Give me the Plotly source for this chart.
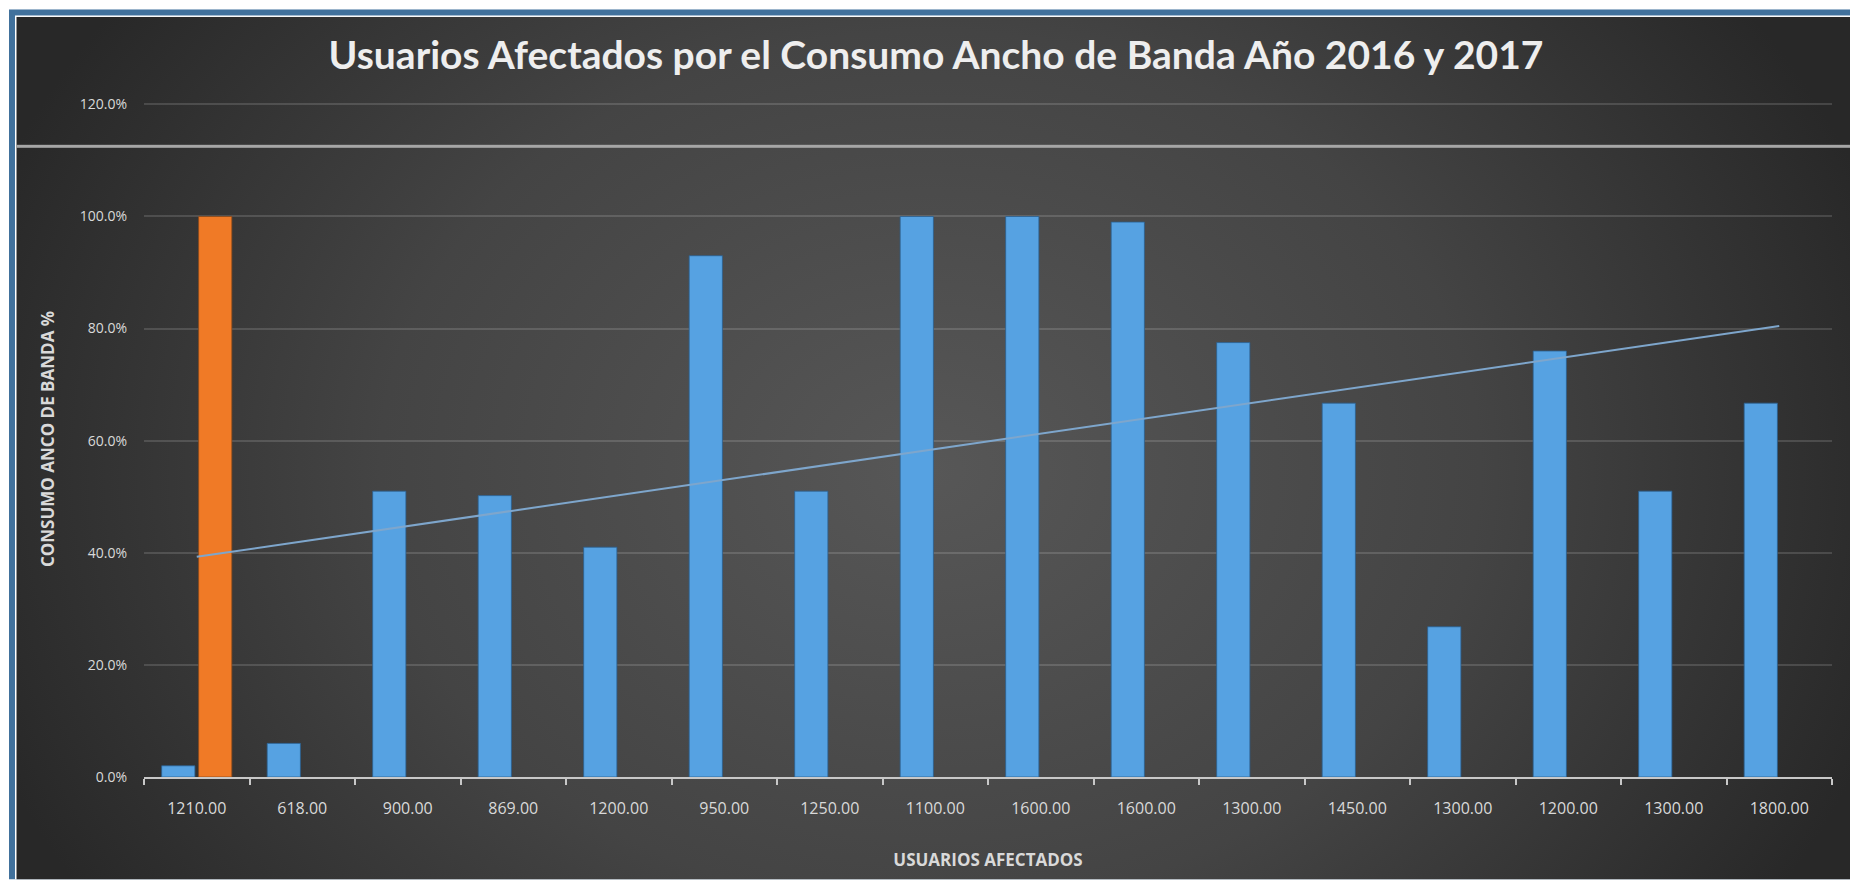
import base64
import numpy as np
import plotly.graph_objects as go

# ---------------- data ----------------
tick_labels = ["1210.00", "618.00", "900.00", "869.00", "1200.00", "950.00", "1250.00",
               "1100.00", "1600.00", "1600.00", "1300.00", "1450.00", "1300.00",
               "1200.00", "1300.00", "1800.00"]
blue_values = [2.0, 6.0, 51.0, 50.2, 41.0, 93.0, 51.0, 100.0, 100.0, 99.0, 77.5, 66.7,
               26.8, 76.0, 51.0, 66.7]
orange_values = [100.0] + [None] * 15
y_ticks = [0, 20, 40, 60, 80, 100, 120]

title_text = "Usuarios Afectados por el Consumo Ancho de Banda Año 2016 y 2017"
x_title = "USUARIOS AFECTADOS"
y_title = "CONSUMO ANCO DE BANDA %"

x_ids = [str(i) for i in range(len(tick_labels))]

# linear trendline of the blue series (as Excel does)
idx = np.arange(1, len(blue_values) + 1)
slope, intercept = np.polyfit(idx, blue_values, 1)
trend_y = [intercept + slope * idx[0], intercept + slope * idx[-1]]

# ---------------- layout geometry ----------------
W, H = 1850, 880
Y_MAX = 120.6
ZERO_PX, TOP_PX = 777.5, 104.0           # pixel rows of 0 % and 120 %
PX_PER_UNIT = (ZERO_PX - TOP_PX) / 120.0
L, R = 144, 18
B = H - ZERO_PX
T = ZERO_PX - Y_MAX * PX_PER_UNIT
PW, PH = W - L - R, H - T - B


def px2x(px):
    return (px - L) / PW


def py2y(py):
    return (H - B - py) / PH


# background: white page, blue frame at top/left, radial dark gradient
svg = f"""<svg xmlns='http://www.w3.org/2000/svg' width='{W}' height='{H}' viewBox='0 0 {W} {H}'>
<defs>
<radialGradient id='g' gradientUnits='userSpaceOnUse' cx='930' cy='470' r='1000'
 gradientTransform='translate(930 470) scale(1 0.8) translate(-930 -470)'>
<stop offset='0' stop-color='#575757'/>
<stop offset='0.55' stop-color='#444444'/>
<stop offset='1' stop-color='#282828'/>
</radialGradient>
</defs>
<rect x='0' y='0' width='{W}' height='{H}' fill='#ffffff'/>
<rect x='9' y='9' width='{W}' height='{H}' fill='#41719c'/>
<rect x='15' y='15' width='{W}' height='{H}' fill='#ffffff'/>
<rect x='16.5' y='16.5' width='{W}' height='{H}' fill='url(#g)'/>
<rect x='16.5' y='144.5' width='{W}' height='3' fill='#a6a6a6'/>
</svg>"""
svg_uri = "data:image/svg+xml;base64," + base64.b64encode(svg.encode("utf-8")).decode("ascii")

fig = go.Figure()

fig.add_trace(go.Bar(
    x=x_ids, y=blue_values, name="Consumo",
    marker=dict(color="#56a2e2", line=dict(color="#2b5f8f", width=0.8)),
    hoverinfo="y",
))
fig.add_trace(go.Bar(
    x=x_ids, y=orange_values, name="Serie 2",
    marker=dict(color="#f07a26", line=dict(color="#8a4a1c", width=0.8)),
    hoverinfo="y",
))
fig.add_trace(go.Scatter(
    x=[x_ids[0], x_ids[-1]], y=trend_y, mode="lines",
    line=dict(color="#7ea6cc", width=2), name="Lineal",
    hoverinfo="skip",
))

x_tick_font = dict(family="Open Sans, sans-serif", size=16, color="#d9d9d9")
y_tick_font = dict(family="Open Sans, sans-serif", size=14, color="#d9d9d9")
axis_title_font = dict(family="Open Sans, sans-serif", size=17, color="#d9d9d9", weight=700)

fig.update_layout(
    width=W, height=H,
    margin=dict(l=L, r=R, t=T, b=B, pad=0),
    paper_bgcolor="#ffffff",
    plot_bgcolor="rgba(0,0,0,0)",
    showlegend=False,
    barmode="group",
    bargap=0.3,
    bargroupgap=0.1,
    title=dict(
        text=title_text,
        font=dict(family="Lato, sans-serif", size=39, color="#eeeeee", weight=700),
        x=936 / W, xanchor="center", xref="container",
        y=1 - 55 / H, yanchor="middle", yref="container",
    ),
    images=[dict(
        source=svg_uri, xref="paper", yref="paper",
        x=px2x(0), y=py2y(0), sizex=W / PW, sizey=H / PH,
        xanchor="left", yanchor="top", sizing="stretch", layer="below",
    )],
    xaxis=dict(
        type="category",
        tickmode="array", tickvals=x_ids, ticktext=tick_labels,
        tickson="boundaries",
        ticks="outside", ticklen=6, tickwidth=1.5, tickcolor="#c8c8c8",
        showline=True, linecolor="#c8c8c8", linewidth=1.5,
        showgrid=False, zeroline=False,
        tickfont=x_tick_font, ticklabelstandoff=16,
        range=[-0.5, len(x_ids) - 0.5],
        title=dict(text=x_title, standoff=36, font=axis_title_font),
        fixedrange=True,
    ),
    yaxis=dict(
        range=[0, Y_MAX],
        tickmode="array", tickvals=y_ticks,
        ticktext=[f"{v:.1f}%" for v in y_ticks],
        showgrid=True, gridcolor="rgba(255,255,255,0.14)", gridwidth=1.5,
        zeroline=False, showline=False, ticks="",
        tickfont=y_tick_font, ticklabelstandoff=16,
        title=dict(text=y_title, standoff=20, font=axis_title_font),
        fixedrange=True,
    ),
)

fig.write_html("out.html")
